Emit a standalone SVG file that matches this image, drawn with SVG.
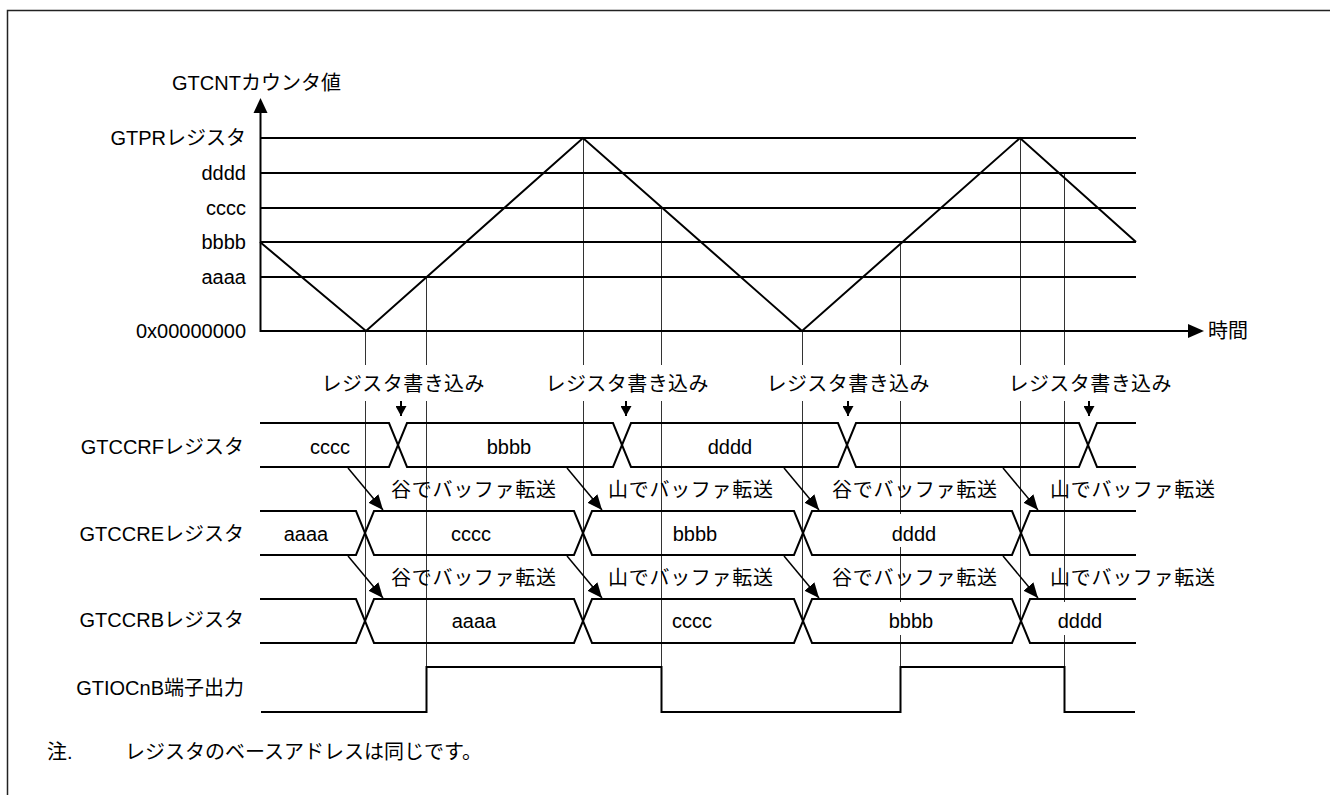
<svg xmlns="http://www.w3.org/2000/svg" width="1330" height="795" viewBox="0 0 1330 795">
<defs>
<style>
text{font-family:"Liberation Sans","Noto Sans CJK JP",sans-serif;font-size:20px;fill:#000}
.mid{text-anchor:middle}
.end{text-anchor:end}
.lv{stroke:#000;stroke-width:2;fill:none}
.gd{stroke:#333;stroke-width:1;fill:none}
.bus{stroke:#000;stroke-width:2;fill:none}
.tr{stroke:#000;stroke-width:1.5;fill:none;marker-end:url(#ah)}
.wr{stroke:#000;stroke-width:2;fill:none;marker-end:url(#ahs)}
.bg{fill:#fff}
</style>
<marker id="ah" markerUnits="userSpaceOnUse" markerWidth="16" markerHeight="13" refX="15" refY="6.5" orient="auto"><path d="M0,0 L15,6.5 L0,13 z" fill="#000"/></marker>
<marker id="ahs" markerUnits="userSpaceOnUse" markerWidth="11" markerHeight="11" refX="10" refY="5.5" orient="auto"><path d="M0,0 L10,5.5 L0,11 z" fill="#000"/></marker>
</defs>
<rect width="1330" height="795" fill="#fff"/>
<path d="M7.5,795 V10.5 H1330" stroke="#222" stroke-width="1.5" fill="none"/>

<g id="guides">
<path class="gd" d="M365.5,331 V621 M426.5,277 V712 M583.5,138 V621 M661.5,208 V712 M802.5,331 V621 M900.5,242 V712 M1020.5,138 V621 M1064.5,173 V712"/>
</g>

<g id="counter-axis">
<path class="lv" d="M260.5,332 V110"/>
<polygon points="260.5,98 253.5,113 267.5,113" fill="#000"/>
<path class="lv" d="M260,331 H1190"/>
<polygon points="1204,331 1188,324 1188,338" fill="#000"/>
<text x="172" y="90">GTCNTカウンタ値</text>
<text x="1208" y="338">時間</text>
</g>

<g id="levels">
<path class="lv" d="M260,138 H1136 M260,173 H1136 M260,208 H1136 M260,242 H1136 M260,277 H1136"/>
<text class="end" x="246" y="145">GTPRレジスタ</text>
<text class="end" x="246" y="180">dddd</text>
<text class="end" x="246" y="215">cccc</text>
<text class="end" x="246" y="249">bbbb</text>
<text class="end" x="246" y="284">aaaa</text>
<text class="end" x="246" y="338">0x00000000</text>
</g>

<g id="counter-wave">
<polyline class="lv" points="260,242 366,331 583,138 802,331 1020,138 1136,242"/>
</g>

<g id="write-labels">
<rect class="bg" x="319" y="365" width="168" height="36"/>
<rect class="bg" x="543" y="365" width="168" height="36"/>
<rect class="bg" x="764" y="365" width="168" height="36"/>
<rect class="bg" x="1006" y="365" width="168" height="36"/>
<text class="mid" x="403" y="391" textLength="163" lengthAdjust="spacing">レジスタ書き込み</text>
<text class="mid" x="627" y="391" textLength="163" lengthAdjust="spacing">レジスタ書き込み</text>
<text class="mid" x="848" y="391" textLength="163" lengthAdjust="spacing">レジスタ書き込み</text>
<text class="mid" x="1090" y="391" textLength="163" lengthAdjust="spacing">レジスタ書き込み</text>
</g>

<g id="GTCCRF">
<text class="end" x="244" y="454">GTCCRFレジスタ</text>
<path class="bus" d="M260,423 H389 L407,467 H613 L631,423 H838 L856,467 H1079 L1097,423 H1136"/>
<path class="bus" d="M260,467 H389 L407,423 H613 L631,467 H838 L856,423 H1079 L1097,467 H1136"/>
<text class="mid" x="330" y="454">cccc</text>
<text class="mid" x="509" y="454">bbbb</text>
<text class="mid" x="730" y="454">dddd</text>
</g>

<g id="GTCCRE">
<text class="end" x="244" y="541">GTCCREレジスタ</text>
<path class="bus" d="M260,511 H356 L374,555 H574 L592,511 H794 L812,555 H1012 L1030,511 H1136"/>
<path class="bus" d="M260,555 H356 L374,511 H574 L592,555 H794 L812,511 H1012 L1030,555 H1136"/>
<rect class="bg" x="887" y="514" width="54" height="33"/>
<text class="mid" x="306" y="541">aaaa</text>
<text class="mid" x="471" y="541">cccc</text>
<text class="mid" x="695" y="541">bbbb</text>
<text class="mid" x="914" y="541">dddd</text>
</g>

<g id="GTCCRB">
<text class="end" x="244" y="627">GTCCRBレジスタ</text>
<path class="bus" d="M260,599 H356 L374,643 H574 L592,599 H794 L812,643 H1012 L1030,599 H1136"/>
<path class="bus" d="M260,643 H356 L374,599 H574 L592,643 H794 L812,599 H1012 L1030,643 H1136"/>
<rect class="bg" x="884" y="602" width="54" height="33"/>
<rect class="bg" x="1053" y="602" width="55" height="33"/>
<text class="mid" x="474" y="628">aaaa</text>
<text class="mid" x="692" y="628">cccc</text>
<text class="mid" x="911" y="628">bbbb</text>
<text class="mid" x="1080" y="628">dddd</text>
</g>

<g id="GTIOCnB">
<text class="end" x="244" y="695">GTIOCnB端子出力</text>
<path class="bus" d="M261,712 H426.5 V667 H661.5 V712 H900.5 V667 H1064.5 V712 H1135"/>
</g>

<g id="transfer-labels">
<text x="391" y="497" textLength="165" lengthAdjust="spacing">谷でバッファ転送</text>
<text x="608" y="497" textLength="165" lengthAdjust="spacing">山でバッファ転送</text>
<text x="832" y="497" textLength="165" lengthAdjust="spacing">谷でバッファ転送</text>
<text x="1050" y="497" textLength="165" lengthAdjust="spacing">山でバッファ転送</text>
<text x="391" y="585" textLength="165" lengthAdjust="spacing">谷でバッファ転送</text>
<text x="608" y="585" textLength="165" lengthAdjust="spacing">山でバッファ転送</text>
<text x="832" y="585" textLength="165" lengthAdjust="spacing">谷でバッファ転送</text>
<text x="1050" y="585" textLength="165" lengthAdjust="spacing">山でバッファ転送</text>
</g>

<g id="connectors">
<path class="wr" d="M401,401 V416"/>
<path class="wr" d="M626,401 V416"/>
<path class="wr" d="M848,401 V416"/>
<path class="wr" d="M1089,401 V416"/>
<path class="tr" d="M348,468 L383,510"/>
<path class="tr" d="M567,468 L602,510"/>
<path class="tr" d="M784,468 L819,510"/>
<path class="tr" d="M1003,468 L1038,510"/>
<path class="tr" d="M348,556 L383,598"/>
<path class="tr" d="M567,556 L602,598"/>
<path class="tr" d="M784,556 L819,598"/>
<path class="tr" d="M1003,556 L1038,598"/>
</g>

<g id="note">
<text x="47" y="759">注.</text>
<text x="125" y="759">レジスタのベースアドレスは同じです。</text>
</g>
</svg>
